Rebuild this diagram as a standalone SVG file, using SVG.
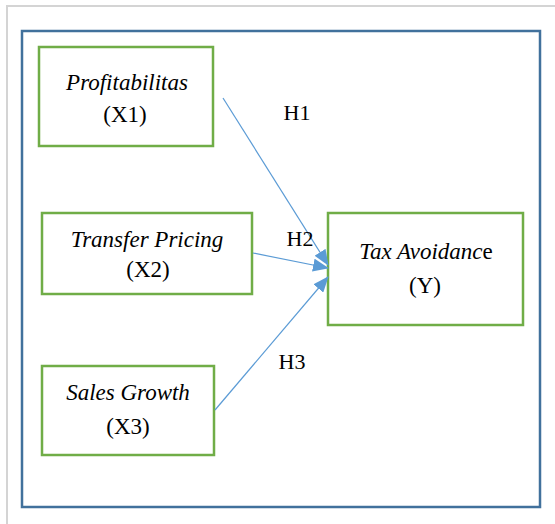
<svg xmlns="http://www.w3.org/2000/svg" width="555" height="524" viewBox="0 0 555 524">
<style>
.node rect{fill:#fff;stroke:#70ad47;stroke-width:2.5}
text{font-family:'Liberation Serif','Times New Roman',Tinos,'DejaVu Serif',serif;font-size:23px;fill:#000;text-anchor:middle}
.it{font-style:italic}
.lbl{font-size:22px}
.conn line{stroke:#5b9bd5;stroke-width:1.2}
</style>
<defs>
<marker id="ah" markerUnits="userSpaceOnUse" markerWidth="16" markerHeight="13" refX="15" refY="6.5" orient="auto">
<path d="M0,0 L16,6.5 L0,13 Z" fill="#5b9bd5"/>
</marker>
</defs>
<rect width="555" height="524" fill="#fff"/>
<polyline points="7,524 7,6 555,6" fill="none" stroke="#d4d4d4" stroke-width="2"/>
<rect x="22" y="31" width="518" height="476" fill="none" stroke="#41719c" stroke-width="2.5"/>
<g id="x1" class="node"><rect x="39" y="47" width="174" height="99"/><text x="127" y="90" class="it">Profitabilitas</text><text x="125" y="122">(X1)</text></g>
<g id="x2" class="node"><rect x="42" y="213" width="210" height="81"/><text x="147" y="247" class="it">Transfer Pricing</text><text x="148" y="277">(X2)</text></g>
<g id="x3" class="node"><rect x="42" y="366" width="172" height="89"/><text x="128" y="400" class="it">Sales Growth</text><text x="128" y="434">(X3)</text></g>
<g id="y" class="node"><rect x="328" y="213" width="195" height="112"/><text x="426" y="259"><tspan class="it">Tax Avoidanc</tspan>e</text><text x="425" y="293">(Y)</text></g>
<g id="connectors" class="conn">
<line x1="223" y1="98" x2="328" y2="265" marker-end="url(#ah)"/>
<line x1="253" y1="253" x2="328" y2="268" marker-end="url(#ah)"/>
<line x1="215" y1="410" x2="328" y2="277" marker-end="url(#ah)"/>
</g>
<g id="labels">
<text class="lbl" x="297" y="120">H1</text>
<text class="lbl" x="300" y="246">H2</text>
<text class="lbl" x="292" y="369">H3</text>
</g>
</svg>
